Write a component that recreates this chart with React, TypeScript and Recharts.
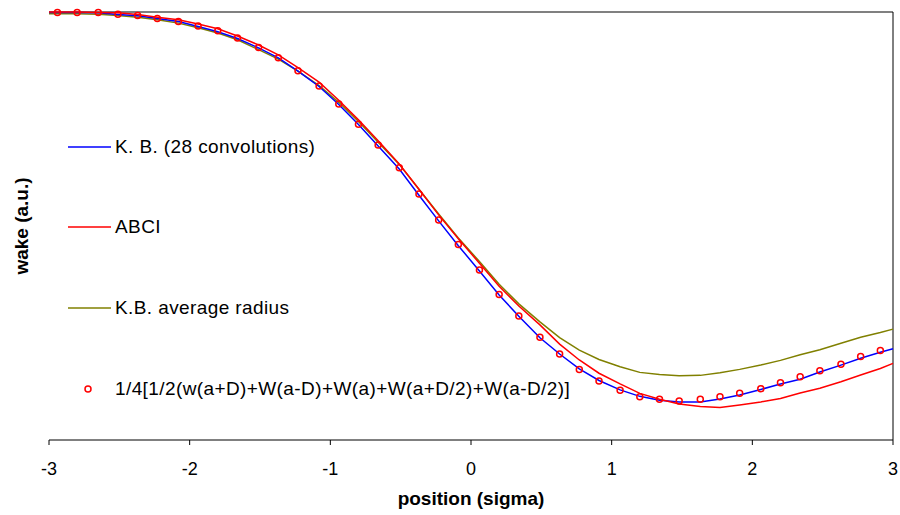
import { LineChart, Line, XAxis, YAxis, ReferenceLine } from 'recharts'

const FONT = "Arial, 'Liberation Sans', sans-serif"

// position (sigma) of the sampled curves
const lineX = [
  -3.0, -2.94, -2.8, -2.65, -2.51, -2.37, -2.23, -2.08, -1.94, -1.8, -1.66, -1.51, -1.37, -1.23, -1.08,
  -0.94, -0.8, -0.66, -0.51, -0.37, -0.23, -0.09, 0.06, 0.2, 0.34, 0.49, 0.63, 0.77, 0.91, 1.06, 1.2,
  1.34, 1.48, 1.63, 1.77, 1.91, 2.06, 2.2, 2.34, 2.48, 2.63, 2.77, 2.91, 3.0,
]

const kbValues = [
  99.9, 99.9, 99.9, 99.8, 99.4, 99.1, 98.5, 97.8, 96.6, 95.4, 93.8, 91.6, 89.3, 86.2, 82.6, 78.4, 73.7,
  68.7, 63.3, 57.2, 51.2, 45.4, 39.5, 33.9, 28.9, 23.9, 20.1, 16.6, 13.9, 11.7, 10.2, 9.3, 8.9, 8.9, 9.6,
  10.5, 11.8, 13.1, 14.2, 15.9, 17.5, 19.1, 20.5, 21.3,
]

const abciValues = [
  100, 100, 100, 99.9, 99.8, 99.4, 98.8, 98.2, 97.2, 96.1, 94.4, 92.3, 90.0, 87.0, 83.6, 79.4, 74.8,
  69.9, 64.5, 58.6, 52.6, 47.0, 41.3, 35.9, 31.3, 26.9, 22.4, 18.7, 15.6, 13.1, 10.9, 9.5, 8.4, 7.8, 7.6,
  8.2, 8.9, 9.7, 11.0, 12.1, 13.6, 15.2, 16.7, 17.9,
]

const avgRadiusValues = [
  99.6, 99.6, 99.6, 99.5, 99.2, 98.8, 98.2, 97.4, 96.3, 95.1, 93.5, 91.2, 89.0, 86.2, 82.8, 78.9, 74.4,
  69.6, 64.4, 58.6, 52.8, 47.2, 41.7, 36.4, 31.8, 27.6, 23.9, 21.0, 18.8, 17.1, 15.8, 15.3, 15.0, 15.1,
  15.7, 16.5, 17.5, 18.6, 19.9, 21.1, 22.6, 24.0, 25.1, 25.9,
]

// the 1/4[...] combination, sampled every 1/7 sigma
const sumX = [
  -2.94, -2.8, -2.65, -2.51, -2.37, -2.23, -2.08, -1.94, -1.8, -1.66, -1.51, -1.37, -1.23, -1.08, -0.94,
  -0.8, -0.66, -0.51, -0.37, -0.23, -0.09, 0.06, 0.2, 0.34, 0.49, 0.63, 0.77, 0.91, 1.06, 1.2, 1.34, 1.48,
  1.63, 1.77, 1.91, 2.06, 2.2, 2.34, 2.48, 2.63, 2.77, 2.91,
]

const sumValues = [
  99.9, 99.9, 99.9, 99.5, 99.2, 98.5, 97.8, 96.7, 95.6, 93.9, 91.7, 89.3, 86.3, 82.7, 78.5, 73.8, 68.9,
  63.6, 57.5, 51.4, 45.7, 39.7, 34.0, 29.0, 24.0, 20.1, 16.5, 13.8, 11.6, 10.1, 9.5, 9.1, 9.5, 10.1, 10.9,
  12.0, 13.4, 14.8, 16.2, 17.7, 19.5, 20.9,
]

const xTicks = [-3, -2, -1, 0, 1, 2, 3]

const legendItems = [
  { name: 'K. B. (28 convolutions)', color: '#0000ff', marker: false },
  { name: 'ABCI', color: '#ff0000', marker: false },
  { name: 'K.B. average radius', color: '#808000', marker: false },
  { name: '1/4[1/2(w(a+D)+W(a-D)+W(a)+W(a+D/2)+W(a-D/2)]', color: '#ff0000', marker: true },
]
const legendRowY = [147, 227, 308, 389]

const kbData = lineX.map((x, i) => ({ x, y: kbValues[i] }))
const abciData = lineX.map((x, i) => ({ x, y: abciValues[i] }))
const avgData = lineX.map((x, i) => ({ x, y: avgRadiusValues[i] }))
const sumData = sumX.map((x, i) => ({ x, y: sumValues[i] }))

export default function App() {
  return (
    <div style={{ position: 'absolute', left: 0, top: 0, width: 900, height: 515, background: '#fff', fontFamily: FONT }}>
      <LineChart width={900} height={515} margin={{ top: 12, right: 7, bottom: 0, left: 49 }}>
        <XAxis
          type="number"
          dataKey="x"
          domain={[-3, 3]}
          ticks={xTicks}
          height={75}
          tickSize={5}
          tickMargin={17}
          stroke="#000"
          tick={{ fill: '#000', fontSize: 18, fontFamily: FONT }}
        />
        <YAxis type="number" domain={[0, 100]} width={0} tick={false} tickLine={false} stroke="#000" />
        <ReferenceLine y={100} stroke="#808080" strokeWidth={2} />
        <ReferenceLine x={3} stroke="#000" />
        <Line data={avgData} dataKey="y" stroke="#808000" strokeWidth={1.5} dot={false} isAnimationActive={false} />
        <Line data={kbData} dataKey="y" stroke="#0000ff" strokeWidth={1.5} dot={false} isAnimationActive={false} />
        <Line data={abciData} dataKey="y" stroke="#ff0000" strokeWidth={1.5} dot={false} isAnimationActive={false} />
        <Line
          data={sumData}
          dataKey="y"
          stroke="none"
          dot={{ r: 3, stroke: '#ff0000', strokeWidth: 1.5, fill: 'none' }}
          isAnimationActive={false}
        />
      </LineChart>

      {legendItems.map((item, i) => (
        <div
          key={item.name}
          style={{ position: 'absolute', left: 68, top: legendRowY[i] - 12, height: 24, display: 'flex', alignItems: 'center', whiteSpace: 'nowrap' }}
        >
          <svg width={44} height={24}>
            {item.marker ? (
              <circle cx={20} cy={12} r={3} stroke={item.color} strokeWidth={1.5} fill="none" />
            ) : (
              <line x1={0} x2={43} y1={12} y2={12} stroke={item.color} strokeWidth={1.5} />
            )}
          </svg>
          <span style={{ marginLeft: 3, fontSize: 19, letterSpacing: 0.4, color: '#000' }}>{item.name}</span>
        </div>
      ))}

      <div style={{ position: 'absolute', left: 0, width: 942, top: 488, textAlign: 'center', fontSize: 19, fontWeight: 'bold' }}>
        position (sigma)
      </div>
      <div
        style={{
          position: 'absolute',
          left: 22,
          top: 226,
          transform: 'translate(-50%, -50%) rotate(-90deg)',
          fontSize: 19,
          fontWeight: 'bold',
          whiteSpace: 'nowrap',
        }}
      >
        wake (a.u.)
      </div>
    </div>
  )
}
